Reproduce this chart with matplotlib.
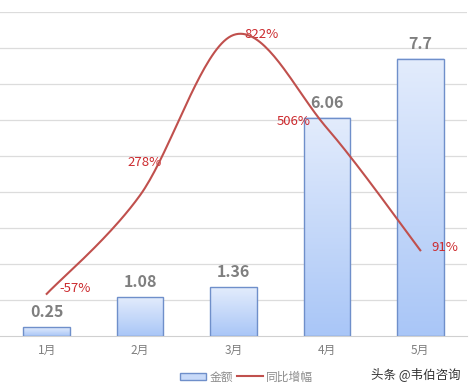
import matplotlib
matplotlib.use("Agg")
import matplotlib.pyplot as plt
import numpy as np
from matplotlib.colors import LinearSegmentedColormap
from matplotlib.patches import Patch
from matplotlib.lines import Line2D

plt.rcParams['font.family'] = ['Noto Sans CJK SC', 'DejaVu Sans']

# 数据
months = ["1月", "2月", "3月", "4月", "5月"]
amount = [0.25, 1.08, 1.36, 6.06, 7.7]
growth = [-57, 278, 822, 506, 91]
growth_labels = ["-57%", "278%", "822%", "506%", "91%"]


def catmull_rom(xs, ys, n=40):
    """平滑曲线（类似Excel的平滑线）"""
    px = np.concatenate([[xs[0]], xs, [xs[-1]]])
    py = np.concatenate([[ys[0]], ys, [ys[-1]]])
    out_x, out_y = [], []
    t = np.linspace(0, 1, n)
    for i in range(1, len(px) - 2):
        p0, p1, p2, p3 = [np.array([px[j], py[j]], dtype=float) for j in range(i - 1, i + 3)]
        m1 = (p2 - p0) / 2
        m2 = (p3 - p1) / 2
        h00 = 2 * t**3 - 3 * t**2 + 1
        h10 = t**3 - 2 * t**2 + t
        h01 = -2 * t**3 + 3 * t**2
        h11 = t**3 - t**2
        pts = (np.outer(h00, p1) + np.outer(h10, m1) + np.outer(h01, p2) + np.outer(h11, m2))
        out_x.extend(pts[:, 0])
        out_y.extend(pts[:, 1])
    return np.array(out_x), np.array(out_y)


fig = plt.figure(figsize=(4.7, 3.91), dpi=100)
ax = fig.add_axes([0.0, 0.1407, 0.9936, 0.8286])

x = np.arange(len(months))
bar_w = 0.5
edge_color = "#6f8fca"
cmap = LinearSegmentedColormap.from_list("bar", ["#a9c6f7", "#e3ecfc"])
grad = np.linspace(0, 1, 256).reshape(-1, 1)

bars = ax.bar(x, amount, width=bar_w, facecolor="none", edgecolor=edge_color,
              linewidth=1.0, zorder=3)
for bar in bars:
    x0 = bar.get_x()
    ax.imshow(grad, extent=[x0, x0 + bar.get_width(), 0, bar.get_height()],
              origin="lower", aspect="auto", cmap=cmap, zorder=2)

for xi, v in zip(x, amount):
    ax.annotate(f"{v:g}", (xi, v), xytext=(0, 5), textcoords="offset points",
                ha="center", va="bottom", fontsize=11.5, fontweight="bold", color="#7f7f7f")

ax.set_xlim(-0.5, 4.5)
ax.set_ylim(0, 9)
for gy in range(1, 10):
    ax.axhline(gy, color="#dcdcdc", linewidth=0.9, zorder=1)
for s in ["top", "left", "right"]:
    ax.spines[s].set_visible(False)
ax.spines["bottom"].set_color("#d0d0d0")
ax.set_yticks([])
ax.set_xticks(x)
ax.set_xticklabels(months, fontsize=8.5, color="#7f7f7f")
ax.tick_params(axis="x", length=0, pad=6)

# 同比增幅（次坐标轴）
ax2 = ax.twinx()
ax2.set_ylim(-200, 900)
ax2.set_xlim(-0.5, 4.5)
sx, sy = catmull_rom(x, growth)
line_color = "#c0504d"
ax2.plot(sx, sy, color=line_color, linewidth=1.5, zorder=4)
ax2.axis("off")

label_red = "#cc2a2e"
offsets = [(9, 4, "left", "center"), (-9, 19, "left", "bottom"), (8, 0, "left", "center"),
           (-36, 5, "left", "center"), (8, 2, "left", "center")]
for xi, v, lab, (dx, dy, ha, va) in zip(x, growth, growth_labels, offsets):
    ax2.annotate(lab, (xi, v), xytext=(dx, dy), textcoords="offset points",
                 ha=ha, va=va, fontsize=9.5, color=label_red)

handles = [Patch(facecolor="#c8daf9", edgecolor=edge_color, linewidth=1.0),
           Line2D([0], [0], color=line_color, linewidth=1.5)]
fig.legend(handles, ["金额", "同比增幅"], loc="center", bbox_to_anchor=(0.525, 0.036),
           ncol=2, frameon=False, fontsize=8.5, handlelength=2.2, handleheight=0.6,
           columnspacing=0.3, handletextpad=0.3, labelcolor="#8c8c8c")

fig.text(0.885, 0.044, "头条 @韦伯咨询", ha="center", va="center", fontsize=9, color="#333333")

plt.savefig("out.png", dpi=100)
plt.close()
